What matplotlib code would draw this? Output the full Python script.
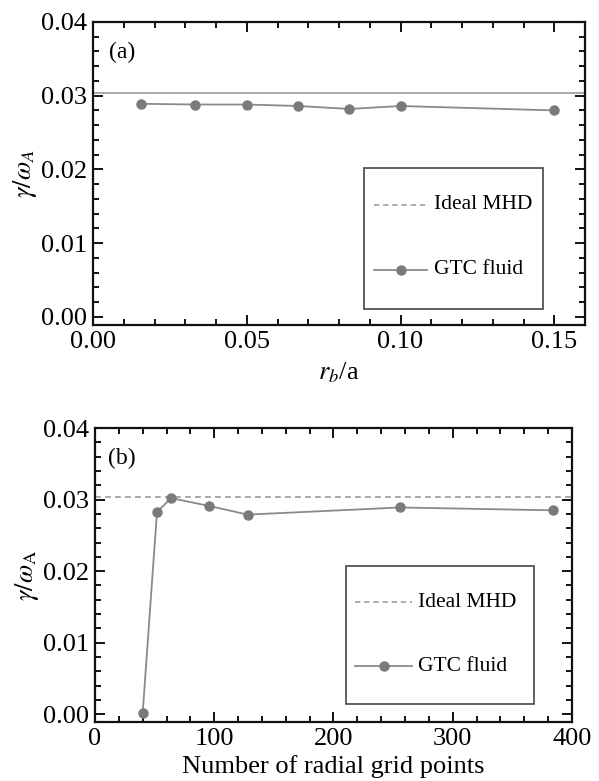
import matplotlib
matplotlib.use("Agg")
import matplotlib.pyplot as plt
from matplotlib.patches import Rectangle
from matplotlib.ticker import MultipleLocator, FormatStrFormatter

# ---- data ----
rb_over_a = [0.0156, 0.0333, 0.05, 0.0667, 0.0833, 0.10, 0.15]
gamma_a = [0.0289, 0.0288, 0.0288, 0.0286, 0.0282, 0.0286, 0.0280]

n_grid = [40, 52, 64, 96, 128, 256, 384]
gamma_b = [0.0002, 0.0283, 0.0302, 0.0291, 0.0279, 0.0289, 0.0285]

ideal_mhd = 0.0303

legend_labels = ["Ideal MHD", "GTC fluid"]
panel_labels = ["(a)", "(b)"]

plt.rcParams['font.family'] = ['Liberation Serif', 'DejaVu Serif']
plt.rcParams['mathtext.fontset'] = 'stix'

fig = plt.figure(figsize=(5.99, 7.81), dpi=100)
ax_a = fig.add_axes([0.1553, 0.5839, 0.8214, 0.388])
ax_b = fig.add_axes([0.1586, 0.0755, 0.7963, 0.3764])

line_col = '#8a8a8a'
mark_col = '#7a7a7a'
mhd_col = '#999999'
FS = 19
DASH = (0, (3.5, 2.5))


def style(ax, xmaj, xmin):
    for s in ax.spines.values():
        s.set_linewidth(1.6)
        s.set_color('#111111')
    ax.yaxis.set_major_locator(MultipleLocator(0.01))
    ax.yaxis.set_minor_locator(MultipleLocator(0.002))
    ax.yaxis.set_major_formatter(FormatStrFormatter('%.2f'))
    ax.xaxis.set_major_locator(MultipleLocator(xmaj))
    ax.xaxis.set_minor_locator(MultipleLocator(xmin))
    ax.tick_params(which='both', direction='in', top=True, right=True,
                   labelsize=FS, width=1.4, color='#111111')
    ax.tick_params(which='major', length=7.5, pad=4)
    ax.tick_params(which='minor', length=4)


def add_legend(ax, box, rows, hx, tx):
    x0, y0, x1, y1 = box
    ax.add_patch(Rectangle((x0, y0), x1 - x0, y1 - y0, transform=ax.transAxes,
                           facecolor='white', edgecolor='#555555', lw=1.3,
                           zorder=5))
    # Ideal MHD entry
    ax.plot(hx, [rows[0], rows[0]], transform=ax.transAxes, color=mhd_col,
            lw=1.1, ls=DASH, zorder=6)
    ax.text(tx, rows[0], legend_labels[0], transform=ax.transAxes,
            fontsize=15.5, ha='left', va='center', zorder=6)
    # GTC fluid entry
    ax.plot(hx, [rows[1], rows[1]], transform=ax.transAxes, color=line_col,
            lw=1.3, zorder=6)
    ax.plot([(hx[0] + hx[1]) / 2], [rows[1]], transform=ax.transAxes,
            marker='o', markersize=6.5, color=mark_col, zorder=7)
    ax.text(tx, rows[1], legend_labels[1], transform=ax.transAxes,
            fontsize=15.5, ha='left', va='center', zorder=6)


# ---- panel (a) ----
ax_a.axhline(ideal_mhd, color=mhd_col, lw=1.2, ls='-')
ax_a.plot(rb_over_a, gamma_a, color=line_col, lw=1.3, marker='o',
          markersize=6.5, markerfacecolor=mark_col, markeredgecolor=mark_col)
ax_a.set_xlim(0, 0.16)
ax_a.set_ylim(-0.0011, 0.04)
style(ax_a, 0.05, 0.01)
ax_a.xaxis.set_major_formatter(FormatStrFormatter('%.2f'))
ax_a.set_xlabel(r'$r_b$/a', fontsize=FS, labelpad=6)
ax_a.set_ylabel(r'$\gamma/\omega_A$', fontsize=FS, labelpad=2)
ax_a.text(0.06, 0.90, panel_labels[0], transform=ax_a.transAxes,
          fontsize=17, ha='center', va='center')
add_legend(ax_a, (0.551, 0.053, 0.915, 0.518), (0.396, 0.182),
           (0.571, 0.679), 0.693)

# ---- panel (b) ----
ax_b.axhline(ideal_mhd, color=mhd_col, lw=1.2, ls=DASH)
ax_b.plot(n_grid, gamma_b, color=line_col, lw=1.3, marker='o',
          markersize=6.5, markerfacecolor=mark_col, markeredgecolor=mark_col)
ax_b.set_xlim(0, 400)
ax_b.set_ylim(-0.0011, 0.04)
style(ax_b, 100, 20)
ax_b.set_xlabel('Number of radial grid points', fontsize=FS, labelpad=4)
ax_b.set_ylabel(r'$\gamma/\omega_{\mathrm{A}}$', fontsize=FS, labelpad=2)
ax_b.text(0.057, 0.895, panel_labels[1], transform=ax_b.transAxes,
          fontsize=17, ha='center', va='center')
add_legend(ax_b, (0.526, 0.061, 0.920, 0.531), (0.408, 0.190),
           (0.545, 0.665), 0.677)

fig.savefig('out.png', dpi=100)
